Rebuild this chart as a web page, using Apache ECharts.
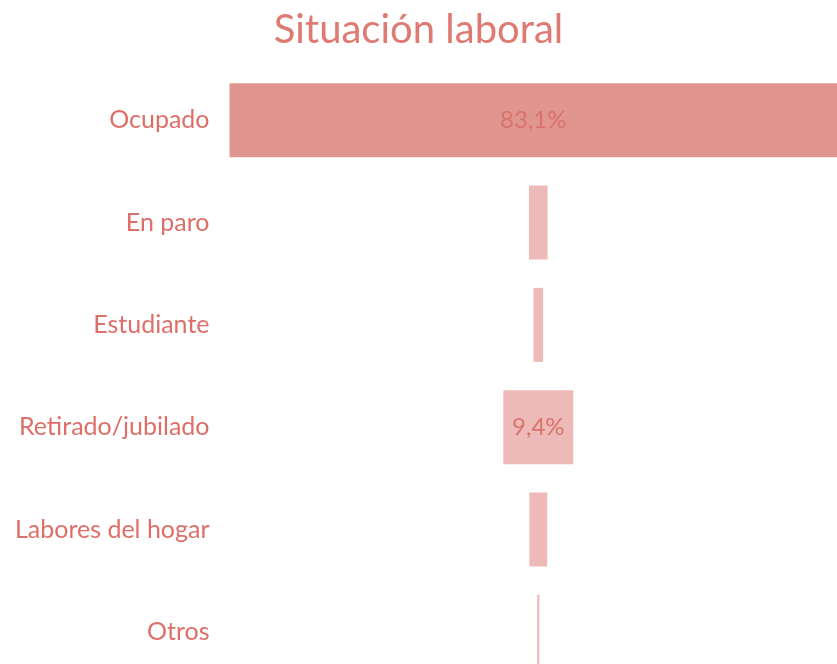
<!DOCTYPE html>
<html><head><meta charset="utf-8">
<script src="https://cdn.jsdelivr.net/npm/echarts@6/dist/echarts.min.js"></script>
<style>html,body{margin:0;padding:0;background:#fff;overflow:hidden}#c{width:837px;height:700px}</style>
</head><body><div id="c"></div>
<script>
const categories = ['Ocupado', 'En paro', 'Estudiante', 'Retirado/jubilado', 'Labores del hogar', 'Otros'];
const values = [83.1, 2.5, 1.3, 9.4, 2.4, 0.3];
const maxValue = Math.max(...values);
const offsets = values.map(v => (maxValue - v) / 2);
const barColors = ['#E0958F', '#EDBAB7', '#EDBAB7', '#EDBAB7', '#EDBAB7', '#EDBAB7'];
const labelFont = 'Lato, "Open Sans", sans-serif';

const chart = echarts.init(document.getElementById('c'));
chart.setOption({
  animation: false,
  title: {
    text: 'Situación laboral', left: 'center', top: 5,
    textStyle: { color: '#DE7A72', fontSize: 40, fontWeight: 'normal', fontFamily: labelFont }
  },
  grid: { left: 229.5, right: 0, top: 69, height: 614 },
  xAxis: { type: 'value', min: 0, max: 607.5 / 7.432, show: false },
  yAxis: {
    type: 'category', data: categories, inverse: true,
    axisLine: { show: false }, axisTick: { show: false }, splitLine: { show: false },
    axisLabel: { color: '#DE6F68', fontSize: 25, fontFamily: labelFont, margin: 20 }
  },
  series: [
    { type: 'bar', stack: 's', data: offsets, barWidth: 74, itemStyle: { color: 'transparent' }, silent: true },
    {
      type: 'bar', stack: 's', barWidth: 74,
      data: values.map((v, i) => ({ value: v, itemStyle: { color: barColors[i] } })),
      label: {
        show: true, position: 'inside', color: '#D9736C', fontSize: 24, fontFamily: labelFont,
        formatter: p => p.value > 5 ? p.value.toFixed(1).replace('.', ',') + '%' : ''
      }
    }
  ]
});
</script></body></html>
